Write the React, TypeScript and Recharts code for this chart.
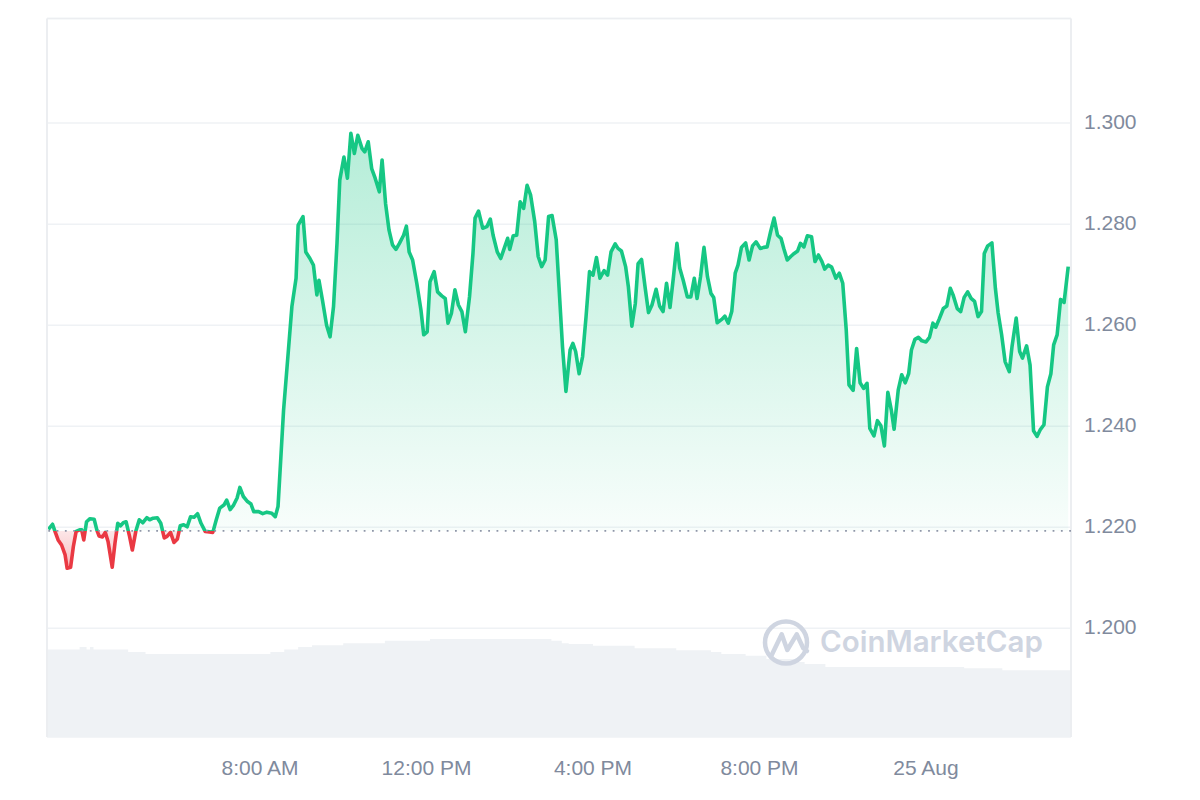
import React from 'react';
import { ComposedChart, Area, XAxis, YAxis, CartesianGrid, ReferenceLine } from 'recharts';

// minutes since 24 Aug 00:00 (5-min candles)
const priceTimes = [
  175, 181, 184, 189, 194, 199, 202, 207, 211, 215,
  220, 223, 226, 230, 235, 241, 245, 248, 253, 257,
  261, 267, 271, 275, 279, 283, 287, 292, 296, 301,
  306, 311, 317, 321, 326, 332, 337, 342, 346, 351,
  356, 361, 365, 370, 375, 380, 385, 390, 395, 401,
  407, 412, 417, 422, 428, 432, 437, 442, 447, 451,
  456, 462, 467, 471, 478, 484, 490, 497, 502, 506,
  514, 521, 526, 532, 535, 542, 546, 552, 557, 562,
  565, 570, 576, 581, 586, 591, 595, 601, 606, 611,
  616, 621, 627, 631, 636, 641, 646, 652, 656, 661,
  666, 671, 676, 681, 687, 691, 695, 700, 706, 712,
  716, 721, 725, 731, 736, 742, 747, 751, 756, 761,
  766, 771, 776, 782, 787, 790, 795, 801, 807, 812,
  816, 822, 827, 832, 837, 840, 845, 850, 855, 860,
  865, 870, 876, 881, 886, 891, 896, 901, 907,
  911, 916, 921, 927, 931, 935, 940, 945, 950, 955,
  960, 965, 970, 976, 981, 986, 992, 996, 1001, 1007,
  1011, 1016, 1021, 1025, 1030, 1035, 1040, 1045, 1051, 1056,
  1061, 1066, 1071, 1076, 1081, 1085, 1090, 1096, 1101, 1106,
  1110, 1115, 1120, 1125, 1130, 1134, 1139, 1146, 1150, 1155,
  1160, 1165, 1169, 1174, 1180, 1185, 1190, 1195, 1201, 1206,
  1211, 1216, 1221, 1226, 1231, 1235, 1240, 1245, 1250, 1255,
  1259, 1264, 1269, 1275, 1280, 1285, 1290, 1294, 1299, 1304,
  1310, 1315, 1320, 1325, 1329, 1335, 1340, 1345, 1350, 1355,
  1359, 1365, 1370, 1375, 1380, 1385, 1390, 1394, 1400, 1405,
  1410, 1415, 1419, 1424, 1429, 1434, 1440, 1445, 1450, 1454,
  1459, 1465, 1470, 1475, 1479, 1485, 1490, 1495, 1500, 1505,
  1510, 1515, 1520, 1524, 1529, 1535, 1540, 1544, 1549, 1554,
  1560, 1564, 1570, 1575, 1579, 1585, 1590, 1595, 1600, 1605,
  1610, 1615, 1620, 1624, 1629, 1634, 1639, 1645,
];

const prices = [
  1.2196, 1.2206, 1.2194, 1.2175, 1.2165, 1.2146, 1.2119, 1.2121, 1.2162, 1.2192,
  1.2195, 1.2195, 1.2175, 1.2211, 1.2217, 1.2216, 1.2194, 1.2183, 1.2181, 1.2190,
  1.2172, 1.2121, 1.2169, 1.2208, 1.2203, 1.2209, 1.2211, 1.2182, 1.2155, 1.2192,
  1.2215, 1.2209, 1.2219, 1.2215, 1.2218, 1.2219, 1.2208, 1.2179, 1.2182, 1.2190,
  1.2170, 1.2177, 1.2203, 1.2205, 1.2201, 1.2221, 1.2220, 1.2227, 1.2208, 1.2192,
  1.2191, 1.2190, 1.2215, 1.2238, 1.2244, 1.2254, 1.2235, 1.2244, 1.2258, 1.2279,
  1.2261, 1.2251, 1.2246, 1.2231, 1.2231, 1.2227, 1.2230, 1.2228, 1.2221, 1.2241,
  1.2432, 1.2551, 1.2637, 1.2693, 1.2798, 1.2815, 1.2745, 1.2732, 1.2719, 1.2660,
  1.2689, 1.2650, 1.2600, 1.2577, 1.2637, 1.2762, 1.2887, 1.2933, 1.2891, 1.2980,
  1.2940, 1.2976, 1.2950, 1.2943, 1.2963, 1.2910, 1.2891, 1.2864, 1.2927, 1.2841,
  1.2788, 1.2759, 1.2750, 1.2762, 1.2778, 1.2796, 1.2745, 1.2729, 1.2683, 1.2630,
  1.2581, 1.2587, 1.2686, 1.2706, 1.2666, 1.2658, 1.2653, 1.2604, 1.2624, 1.2670,
  1.2640, 1.2627, 1.2587, 1.2656, 1.2742, 1.2812, 1.2826, 1.2792, 1.2795, 1.2810,
  1.2778, 1.2745, 1.2732, 1.2752, 1.2772, 1.2750, 1.2777, 1.2778, 1.2844, 1.2831,
  1.2877, 1.2858, 1.2805, 1.2736, 1.2716, 1.2729, 1.2815, 1.2817, 1.2769,
  1.2676, 1.2558, 1.2469, 1.2551, 1.2564, 1.2548, 1.2504, 1.2538, 1.2617, 1.2706,
  1.2699, 1.2734, 1.2693, 1.2708, 1.2699, 1.2745, 1.2761, 1.2752, 1.2747, 1.2716,
  1.2676, 1.2598, 1.2643, 1.2722, 1.2730, 1.2676, 1.2625, 1.2640, 1.2671, 1.2638,
  1.2627, 1.2683, 1.2635, 1.2696, 1.2762, 1.2713, 1.2689, 1.2656, 1.2656, 1.2693,
  1.2653, 1.2696, 1.2754, 1.2696, 1.2663, 1.2655, 1.2605, 1.2612, 1.2618, 1.2604,
  1.2627, 1.2703, 1.2719, 1.2754, 1.2763, 1.2729, 1.2757, 1.2765, 1.2752, 1.2754,
  1.2755, 1.2785, 1.2812, 1.2778, 1.2772, 1.2752, 1.2729, 1.2736, 1.2742, 1.2747,
  1.2762, 1.2755, 1.2777, 1.2775, 1.2726, 1.2739, 1.2726, 1.2711, 1.2719, 1.2715,
  1.2693, 1.2703, 1.2683, 1.2591, 1.2482, 1.2471, 1.2554, 1.2486, 1.2475, 1.2485,
  1.2396, 1.2381, 1.2411, 1.2401, 1.2361, 1.2467, 1.2432, 1.2394, 1.2472, 1.2502,
  1.2486, 1.2504, 1.2551, 1.2572, 1.2576, 1.2569, 1.2567, 1.2576, 1.2604, 1.2596,
  1.2612, 1.2633, 1.2638, 1.2673, 1.2660, 1.2633, 1.2627, 1.2655, 1.2666, 1.2653,
  1.2647, 1.2617, 1.2627, 1.2742, 1.2757, 1.2763, 1.2673, 1.2624, 1.2581, 1.2528,
  1.2508, 1.2558, 1.2614, 1.2548, 1.2535, 1.2559, 1.2521, 1.2391, 1.2380, 1.2394,
  1.2403, 1.2478, 1.2504, 1.2561, 1.2581, 1.2651, 1.2645, 1.2716,
];

// 24h volume ($M), stepped
const volumeTimes = [
  173, 220, 230, 235, 240, 290, 315, 495, 515, 535,
  555, 600, 660, 725, 900, 915, 925, 960, 1020, 1080,
  1130, 1145, 1180, 1210, 1250, 1265, 1295, 1495, 1550, 1649,
];
const volumes = [
  140, 144, 140, 144, 140, 136, 133, 136, 140, 144,
  147, 150, 154, 157, 154, 150, 149, 146, 142, 139,
  136, 133, 130, 125, 120, 117, 112, 110, 107, 107,
];

const openPrice = 1.2193;
const xTicks = [480, 720, 960, 1200, 1440];
const xTickLabels = ['8:00 AM', '12:00 PM', '4:00 PM', '8:00 PM', '25 Aug'];
const yTicks = [1.2, 1.22, 1.24, 1.26, 1.28, 1.3];
const xDomain = [173, 1649];
const yDomain = [1.1785, 1.3207];
const volDomain = [0, 1150];

const W = 1184;
const H = 784;
const GREEN = '#16c784';
const RED = '#ea3943';
const BORDER = '#eceef1';

const App: React.FC = () => {
  const priceData = priceTimes.map((t, i) => ({ t, price: prices[i] }));
  const volumeData = volumeTimes.map((t, i) => ({ t, volume: volumes[i] }));

  // split point of the green/red gradient (relative to line bbox)
  const hi = Math.max(...prices);
  const lo = Math.min(...prices);
  const off = (hi - openPrice) / (hi - lo);

  const axisFont = { fill: '#808a9d', fontSize: 21, fontFamily: '"Liberation Sans", Arial, sans-serif' };

  return (
    <div style={{ position: 'relative', width: W, height: H }}>
      {/* volume underneath */}
      <div style={{ position: 'absolute', left: 0, top: 0 }}>
        <ComposedChart width={W} height={H} data={volumeData} margin={{ top: 10.5, right: 121, bottom: 55, left: 39 }}>
          <XAxis dataKey="t" type="number" domain={xDomain} allowDataOverflow hide />
          <YAxis domain={volDomain} allowDataOverflow hide />
          <Area
            type="stepAfter"
            dataKey="volume"
            fill="#eff2f5"
            fillOpacity={1}
            stroke="none"
            dot={false}
            activeDot={false}
            isAnimationActive={false}
          />
        </ComposedChart>
      </div>

      {/* price */}
      <div style={{ position: 'absolute', left: 0, top: 0 }}>
        <ComposedChart width={W} height={H} data={priceData} margin={{ top: 10.5, right: 0, bottom: 0, left: 39 }}>
          <defs>
            <linearGradient id="cmcStroke" x1="0" y1="0" x2="0" y2="1">
              <stop offset={0} stopColor={GREEN} />
              <stop offset={off} stopColor={GREEN} />
              <stop offset={off} stopColor={RED} />
              <stop offset={1} stopColor={RED} />
            </linearGradient>
            <linearGradient id="cmcFill" x1="0" y1="0" x2="0" y2="1">
              <stop offset={0} stopColor={GREEN} stopOpacity={0.32} />
              <stop offset={off} stopColor={GREEN} stopOpacity={0.03} />
              <stop offset={off} stopColor={RED} stopOpacity={0.12} />
              <stop offset={1} stopColor={RED} stopOpacity={0.35} />
            </linearGradient>
          </defs>
          <CartesianGrid vertical={false} stroke="#eff2f5" strokeWidth={1.5} />
          <XAxis
            dataKey="t"
            type="number"
            domain={xDomain}
            allowDataOverflow
            ticks={xTicks}
            interval={0}
            tickFormatter={(v: number) => xTickLabels[xTicks.indexOf(v)] ?? ''}
            axisLine={false}
            tickLine={false}
            tickSize={0}
            tickMargin={23}
            height={55}
            tick={axisFont}
          />
          <YAxis
            orientation="right"
            domain={yDomain}
            allowDataOverflow
            ticks={yTicks}
            interval={0}
            tickFormatter={(v: number) => v.toFixed(3)}
            axisLine={false}
            tickLine={false}
            tickSize={0}
            tickMargin={13}
            width={121}
            tick={{ ...axisFont, dy: -1.5 }}
          />
          <ReferenceLine y={yDomain[1]} stroke={BORDER} strokeWidth={1.5} />
          <ReferenceLine x={xDomain[0]} stroke={BORDER} strokeWidth={2} />
          <ReferenceLine x={xDomain[1]} stroke={BORDER} strokeWidth={2} />
          <ReferenceLine y={openPrice} stroke="#8f96a8" strokeWidth={1.8} strokeDasharray="1.8 6.5" />
          <Area
            type="linear"
            dataKey="price"
            baseValue={openPrice}
            stroke="url(#cmcStroke)"
            strokeWidth={3.6}
            strokeLinejoin="round"
            fill="url(#cmcFill)"
            fillOpacity={1}
            dot={false}
            activeDot={false}
            isAnimationActive={false}
          />
        </ComposedChart>
      </div>

      {/* watermark */}
      <svg width={W} height={H} style={{ position: 'absolute', left: 0, top: 0, pointerEvents: 'none' }}>
        <g fill="none" stroke="#cfd5e1" strokeWidth={4.5} strokeLinecap="round" strokeLinejoin="round">
          <circle cx={778} cy={634.5} r={21} />
          <polyline points="763.7,647 773.7,626.3 779.3,642 788.7,626.3 795.3,640.3 799,643" />
        </g>
        <text x={812} y={644} fill="#cfd5e1" fontSize={29.5} fontWeight={600} fontFamily="Inter, 'Noto Sans', sans-serif">
          CoinMarketCap
        </text>
      </svg>
    </div>
  );
};

export default App;
